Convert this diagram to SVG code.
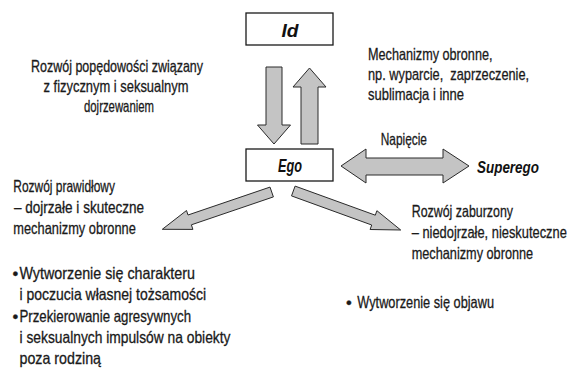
<svg xmlns="http://www.w3.org/2000/svg" width="572" height="373" viewBox="0 0 572 373">
<style>
.box{fill:#fff;stroke:#1a1a1a;stroke-width:1.3}
.arr{fill:#c4c4c4;stroke:#2a2a2a;stroke-width:1;stroke-linejoin:miter}
.t{font-family:"Liberation Sans",Arial,sans-serif;font-size:16.5px;fill:#1a1a1a;stroke:#1a1a1a;stroke-width:0.3}
.b{font-family:"Liberation Sans",Arial,sans-serif;font-weight:bold;font-style:italic;fill:#111}
</style>
<rect width="572" height="373" fill="#fff"/>
<g id="connectors">
<polygon class="arr" points="266,67 282,67 282,125 290.5,125 274,144 257.5,125 266,125"/>
<polygon class="arr" points="301,144 318,144 318,87 326,87 309.5,68 293,87 301,87"/>
<polygon class="arr" points="341,166 366,149 366,158 443,158 443,149 469,166 443,183 443,175 366,175 366,183"/>
<polygon class="arr" points="270,187.1 273.4,196.9 191.4,224.8 192.9,229.4 162.3,229.3 186.5,210.5 188,215"/>
<polygon class="arr" points="295.1,186.1 375.3,215.2 376.9,210.7 400.7,230 370.1,229.5 371.7,225 291.5,195.9"/>
<text class="t" x="380.7" y="145" textLength="46.3" lengthAdjust="spacingAndGlyphs">Napięcie</text>
</g>
<g id="id">
<rect class="box" x="246" y="13" width="87" height="32"/>
<text class="b" x="290" y="36.5" font-size="17.5" text-anchor="middle" textLength="17" lengthAdjust="spacingAndGlyphs">Id</text>
</g>
<g id="ego">
<rect class="box" x="246" y="149" width="87" height="32"/>
<text class="b" x="290" y="171.5" font-size="17.5" text-anchor="middle" textLength="24" lengthAdjust="spacingAndGlyphs">Ego</text>
</g>
<g id="superego">
<text class="b" x="477" y="172.5" font-size="16.5" textLength="62" lengthAdjust="spacingAndGlyphs">Superego</text>
</g>
<g id="popedowosc">
<text class="t" x="117" y="72" text-anchor="middle" textLength="172" lengthAdjust="spacingAndGlyphs">Rozwój popędowości związany</text>
<text class="t" x="116" y="92" text-anchor="middle" textLength="145" lengthAdjust="spacingAndGlyphs">z fizycznym i seksualnym</text>
<text class="t" x="119" y="112" text-anchor="middle" textLength="70" lengthAdjust="spacingAndGlyphs">dojrzewaniem</text>
</g>
<g id="mechanizmy">
<text class="t" x="368" y="60" textLength="124.5" lengthAdjust="spacingAndGlyphs">Mechanizmy obronne,</text>
<text class="t" transform="translate(368,80) scale(0.774,1)" x="0" y="0" xml:space="preserve">np. wyparcie,  zaprzeczenie,</text>
<text class="t" x="368" y="100" textLength="96" lengthAdjust="spacingAndGlyphs">sublimacja i inne</text>
</g>
<g id="prawidlowy">
<text class="t" x="13.3" y="192" textLength="101.7" lengthAdjust="spacingAndGlyphs">Rozwój prawidłowy</text>
<text class="t" x="14" y="213" textLength="130" lengthAdjust="spacingAndGlyphs">– dojrzałe i skuteczne</text>
<text class="t" x="13.3" y="233.5" textLength="122.5" lengthAdjust="spacingAndGlyphs">mechanizmy obronne</text>
<text class="t" x="12.5" y="278.5">•</text>
<text class="t" x="19.5" y="278.5" textLength="175.5" lengthAdjust="spacingAndGlyphs">Wytworzenie się charakteru</text>
<text class="t" x="19.5" y="300" textLength="186.5" lengthAdjust="spacingAndGlyphs">i poczucia własnej tożsamości</text>
<text class="t" x="12.5" y="321.5">•</text>
<text class="t" x="19.5" y="321.5" textLength="171.5" lengthAdjust="spacingAndGlyphs">Przekierowanie agresywnych</text>
<text class="t" x="19.5" y="343" textLength="211" lengthAdjust="spacingAndGlyphs">i seksualnych impulsów na obiekty</text>
<text class="t" x="19.5" y="364" textLength="81.5" lengthAdjust="spacingAndGlyphs">poza rodziną</text>
</g>
<g id="zaburzony">
<text class="t" x="411.7" y="217" textLength="101.3" lengthAdjust="spacingAndGlyphs">Rozwój zaburzony</text>
<text class="t" transform="translate(411.7,238) scale(0.78,1)" x="0" y="0">– niedojrzałe, nieskuteczne</text>
<text class="t" x="411.7" y="259" textLength="121.5" lengthAdjust="spacingAndGlyphs">mechanizmy obronne</text>
<text class="t" x="346" y="308">•</text>
<text class="t" x="357.3" y="308" textLength="136.7" lengthAdjust="spacingAndGlyphs">Wytworzenie się objawu</text>
</g>
</svg>
